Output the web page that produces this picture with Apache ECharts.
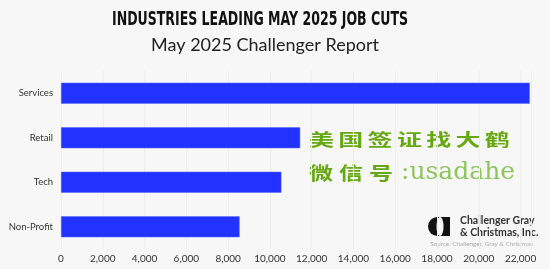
<!DOCTYPE html>
<html><head><meta charset="utf-8">
<script src="https://cdn.jsdelivr.net/npm/echarts@6/dist/echarts.min.js"></script>
<style>html,body{margin:0;padding:0;background:#f7f7f7;}#c{width:550px;height:269px;}</style>
</head><body><div id="c"></div>
<script>
const categories = ['Services', 'Retail', 'Tech', 'Non-Profit'];
const jobCuts = [22440, 11450, 10550, 8550];
const titleText = 'INDUSTRIES LEADING MAY 2025 JOB CUTS';
const subtitleText = 'May 2025 Challenger Report';
const watermark1 = '美国签证找大鹤';
const watermark2 = '微信号';
const watermark3 = ':usadahe';

const chart = echarts.init(document.getElementById('c'));
const wm = [];
for (let i = 0; i < watermark1.length; i++) {
  wm.push({type:'text', x: 309 + i*29.3, y: 139.5, scaleY:0.66,
    style:{text: watermark1[i], font:'bold 25px "Noto Sans CJK SC"', fill:'#66a812', textVerticalAlign:'middle'}});
}
for (let i = 0; i < watermark2.length; i++) {
  wm.push({type:'text', x: 309 + i*30, y: 173.5, scaleY:0.74,
    style:{text: watermark2[i], font:'bold 24px "Noto Sans CJK SC"', fill:'#66a812', textVerticalAlign:'middle'}});
}
wm.push({type:'text', x: 401, y: 172, style:{text: watermark3, font:'25px "DejaVu Serif"', fill:'#90c460', textVerticalAlign:'middle'}});

chart.setOption({
  backgroundColor:'#f7f7f7',
  animation:false,
  title:[
    {text: subtitleText, left: 260, top: 31, textAlign:'center', textStyle:{fontFamily:'Lato', fontWeight:'normal', fontSize:18, color:'#222'}}
  ],
  grid:{left:61, right:19, top:71, bottom:20, containLabel:false},
  xAxis:{
    type:'value', min:0, max:22500, interval:2000,
    axisLine:{show:false}, axisTick:{show:false},
    splitLine:{show:true, lineStyle:{color:'#ececec', width:1}},
    axisLabel:{showMaxLabel:false, fontFamily:'Lato', fontSize:10, color:'#333', margin:5,
      formatter: v => v.toLocaleString('en-US')}
  },
  yAxis:{
    type:'category', data: categories, inverse:true,
    axisLine:{show:false}, axisTick:{show:false},
    axisLabel:{fontFamily:'Lato', fontSize:9.5, color:'#333', margin:8}
  },
  series:[{
    type:'bar', data: jobCuts, barWidth:21,
    itemStyle:{color:'#2232ff', borderColor:'#5a66ff', borderWidth:0.5}
  }],
  graphic: wm.concat([
    {type:'text', x:260, y:20.5, scaleX:0.66,
      style:{text: titleText, font:'bold 19px "DejaVu Sans"', fill:'#111', textAlign:'center', textVerticalAlign:'middle'}},
    {type:'rect', left:428, top:217, shape:{width:22, height:19, r:[9.5,0,0,9.5]}, style:{fill:'#111'}},
    {type:'ellipse', shape:{cx:440, cy:226.5, rx:3.5, ry:9.5}, style:{fill:'#f7f7f7'}},
    {type:'text', x:460, y:221, style:{text:'Challenger Gray', font:'bold 10.5px Lato', fill:'#333', textVerticalAlign:'middle'}},
    {type:'text', x:460, y:233, style:{text:'& Christmas, Inc.', font:'bold 10.5px Lato', fill:'#333', textVerticalAlign:'middle'}},
    {type:'text', x:533, y:243.5, style:{text:'Source: Challenger, Gray & Christmas', font:'6.3px Lato', fill:'#aaa', textAlign:'right', textVerticalAlign:'middle'}}
  ])
});
</script></body></html>
